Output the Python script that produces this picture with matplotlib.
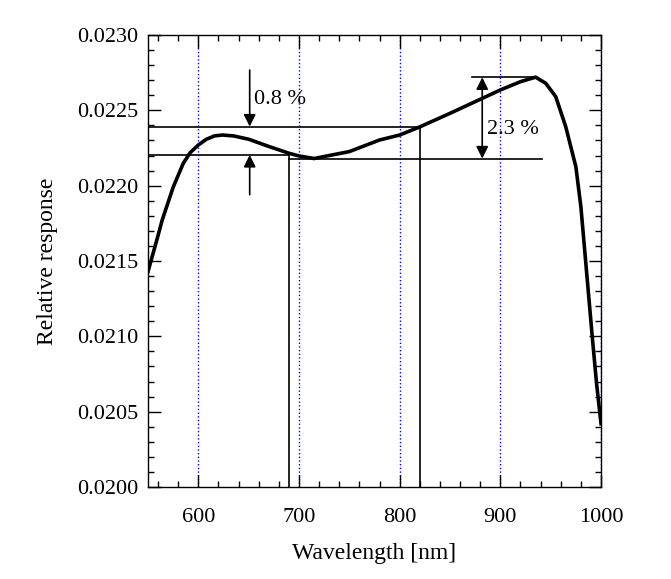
import numpy as np
import matplotlib.pyplot as plt
from matplotlib.ticker import MultipleLocator, FormatStrFormatter

plt.rcParams['font.family'] = ['Liberation Serif', 'DejaVu Serif']

# curve
wavelength = [550, 555, 560, 564, 575, 585, 592, 600, 608, 616, 624, 635, 650,
              670, 690, 700, 715, 730, 750, 780, 800, 820, 850, 880, 900,
              920, 935, 945, 955, 965, 975, 980, 991, 995.5, 1000]
response = [0.02143, 0.02155, 0.02167, 0.02177, 0.02199, 0.022148, 0.02222,
            0.02227, 0.022308, 0.02233, 0.022336, 0.02233, 0.022308,
            0.02226, 0.022215, 0.022197, 0.02218, 0.0222, 0.022226,
            0.022303, 0.022336, 0.02239, 0.02248, 0.022573, 0.022635,
            0.02269, 0.02272, 0.02268, 0.022591, 0.02239, 0.022126,
            0.02186, 0.02102, 0.020691, 0.02042]

grid_x = [600, 700, 800, 900, 1000]

# reference levels
level_high = 0.022392
level_low = 0.022204
level_min = 0.02218
level_max = 0.022719
x_low_end = 690
x_high_end = 820

fig = plt.figure(figsize=(6.71, 5.79), dpi=100)
ax = fig.add_axes([0.2206, 0.1589, 0.6751, 0.7807])

for gx in grid_x:
    ax.axvline(gx, color='blue', linestyle=':', linewidth=1.0, zorder=1)

# helper lines
ax.plot([550, x_high_end], [level_high, level_high], color='black', lw=1.2)
ax.plot([x_high_end, x_high_end], [0.0200, level_high], color='black', lw=1.2)
ax.plot([550, x_low_end], [level_low, level_low], color='black', lw=1.2)
ax.plot([x_low_end, x_low_end], [0.0200, level_low], color='black', lw=1.2)
ax.plot([x_low_end, 941], [level_min, level_min], color='black', lw=1.2)
ax.plot([872, 932], [level_max, level_max], color='black', lw=1.2)

ax.plot(wavelength, response, color='black', lw=2.6, zorder=3,
        solid_joinstyle='round')

# arrows
arrow = dict(arrowstyle='-|>', color='black', lw=1.2, mutation_scale=18,
             shrinkA=0, shrinkB=0)
ax.annotate('', xy=(651, level_high), xytext=(651, 0.022767), arrowprops=arrow)
ax.annotate('', xy=(651, level_low), xytext=(651, 0.02194), arrowprops=arrow)
ax.annotate('', xy=(882, level_max), xytext=(882, level_min),
            arrowprops=dict(arrowstyle='<|-|>', color='black', lw=1.2,
                            mutation_scale=18, shrinkA=0, shrinkB=0))
ax.text(655, 0.02257, '0.8 %', fontsize=16, va='center', ha='left')
ax.text(887, 0.02237, '2.3 %', fontsize=16, va='center', ha='left')

ax.set_xlim(550, 1000)
ax.set_ylim(0.0200, 0.0230)
ax.xaxis.set_major_locator(MultipleLocator(100))
ax.xaxis.set_minor_locator(MultipleLocator(20))
ax.yaxis.set_major_locator(MultipleLocator(0.0005))
ax.yaxis.set_minor_locator(MultipleLocator(0.0001))
ax.yaxis.set_major_formatter(FormatStrFormatter('%.4f'))
ax.tick_params(which='both', direction='in', top=True, right=True,
               labelsize=16, width=1.0)
ax.tick_params(which='major', length=9)
ax.tick_params(which='minor', length=4.5)
ax.tick_params(axis='y', which='major', pad=7)
ax.tick_params(axis='x', which='major', pad=15)
for s in ax.spines.values():
    s.set_linewidth(1.0)

ax.set_xlabel('Wavelength [nm]', fontsize=17, labelpad=12)
ax.set_ylabel('Relative response', fontsize=17, labelpad=14)

fig.savefig('out.png', dpi=100)
